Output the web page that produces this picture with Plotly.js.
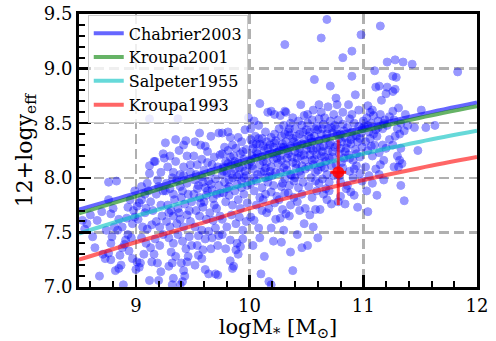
<!DOCTYPE html>
<html>
<head>
<meta charset="utf-8">
<script src="https://cdn.plot.ly/plotly-3.0.1.min.js"></script>
<style>
  html, body { margin: 0; padding: 0; background: #fff; }
  #chart { width: 496px; height: 341px; }
</style>
</head>
<body>
<div id="chart"></div>
<script>
// galaxies: [logM*, 12+log(O/H)]
const galaxyPoints = [
  [8.53,7.61],[8.57,7.58],[8.66,7.61],[8.68,7.10],[8.73,7.26],[8.71,7.30],[8.62,7.46],[8.70,7.69],[8.55,7.53],[8.64,7.36],[8.74,7.52],[8.60,7.66],
  [8.76,7.96],[8.83,7.97],[8.76,7.80],[8.78,7.67],[8.81,7.55],[8.88,7.55],[8.79,7.46],[8.78,7.40],[8.76,7.31],[8.78,7.25],[8.85,7.17],[8.87,7.20],
  [8.97,7.26],[8.89,7.02],[8.82,7.15],[8.86,7.29],[8.88,7.36],[8.90,7.39],[8.91,7.43],[8.93,7.48],[8.92,7.63],[8.93,7.73],[8.98,7.70],[8.95,7.80],
  [8.97,7.58],[8.85,7.62],[8.96,7.45],[8.99,7.88],[8.80,7.72],[8.94,7.33],[8.84,7.52],[8.99,7.64],
  [9.01,7.23],[9.03,7.18],[9.00,7.16],[9.04,7.22],[9.14,7.23],[9.19,7.22],[9.22,7.14],[9.20,7.06],[9.12,7.06],[9.03,7.77],[9.01,7.74],[9.05,7.80],
  [9.08,7.68],[9.09,7.72],[9.12,8.54],[9.17,8.15],[9.16,8.15],[9.12,8.11],[9.12,8.04],[9.24,8.22],[9.25,8.18],[9.22,8.05],[9.05,7.92],[9.08,7.85],
  [9.10,7.95],[9.13,7.78],[9.15,7.70],[9.18,7.85],[9.20,7.92],[9.22,7.75],[9.06,7.55],[9.10,7.53],[9.14,7.57],[9.18,7.60],[9.21,7.55],[9.23,7.65],
  [9.05,7.45],[9.09,7.40],[9.13,7.36],[9.17,7.44],[9.21,7.38],[9.02,7.62],[9.07,7.30],[9.16,7.30],[9.24,7.48],[9.11,7.88],[9.19,7.98],[9.24,7.88],
  [9.26,8.32],[9.37,8.54],[9.33,8.66],[9.29,7.19],[9.32,7.22],[9.40,7.22],[9.42,7.15],[9.43,7.10],[9.41,7.05],[9.39,7.02],[9.28,8.10],[9.30,8.20],
  [9.33,8.05],[9.35,8.15],[9.38,8.25],[9.42,8.30],[9.45,8.20],[9.48,8.12],[9.27,7.95],[9.30,7.90],[9.33,7.85],[9.36,7.98],[9.39,7.92],[9.42,8.02],
  [9.45,7.95],[9.48,8.05],[9.28,7.75],[9.31,7.70],[9.34,7.80],[9.37,7.72],[9.40,7.82],[9.43,7.76],[9.46,7.85],[9.49,7.78],[9.27,7.60],[9.30,7.55],
  [9.33,7.65],[9.36,7.58],[9.39,7.62],[9.42,7.55],[9.45,7.66],[9.48,7.60],[9.29,7.45],[9.33,7.40],[9.37,7.48],[9.41,7.42],[9.44,7.35],[9.47,7.46],
  [9.31,7.32],[9.35,7.28],[9.46,7.28],[9.49,7.38],[9.26,7.88],[9.44,8.34],[9.35,8.35],[9.47,7.70],[9.38,7.68],[9.32,8.00],[9.41,7.88],[9.29,7.68],
  [9.33,7.08],[9.32,7.02],[9.45,7.23],[9.42,8.10],[9.39,8.03],
  [9.69,8.65],[9.52,8.33],[9.57,8.30],[9.61,8.29],[9.63,8.24],[9.56,8.41],[9.66,8.38],[9.73,8.41],[9.51,8.20],[9.54,8.12],[9.58,8.17],[9.60,8.07],
  [9.63,8.14],[9.66,8.05],[9.69,8.19],[9.72,8.10],[9.74,8.21],[9.53,8.03],[9.67,8.12],[9.52,7.98],[9.55,7.93],[9.58,8.01],[9.61,7.91],[9.64,7.97],
  [9.67,7.89],[9.70,7.99],[9.73,7.93],[9.51,7.85],[9.56,7.82],[9.62,7.84],[9.68,7.81],[9.74,7.86],[9.53,7.70],[9.56,7.65],[9.59,7.73],[9.62,7.62],
  [9.65,7.68],[9.68,7.61],[9.71,7.72],[9.74,7.65],[9.60,7.78],[9.52,7.55],[9.55,7.47],[9.58,7.52],[9.61,7.44],[9.64,7.51],[9.67,7.45],[9.70,7.54],
  [9.73,7.47],[9.54,7.38],[9.59,7.34],[9.66,7.35],[9.72,7.38],[9.58,7.26],[9.61,7.16],[9.72,7.11],[9.64,7.12],[9.70,7.12],[9.52,7.20],[9.55,7.29],
  [9.54,7.90],[9.59,7.96],[9.63,7.88],[9.66,7.94],[9.71,7.85],[9.57,7.77],[9.69,7.75],
  [9.99,8.55],[9.76,8.41],[9.81,8.42],[9.83,8.37],[9.90,8.37],[9.85,8.30],[9.93,8.33],[9.78,8.28],[9.96,8.44],[9.76,8.22],[9.79,8.15],[9.81,8.25],
  [9.84,8.12],[9.86,8.20],[9.88,8.27],[9.90,8.14],[9.92,8.22],[9.95,8.17],[9.97,8.26],[9.99,8.12],[9.77,8.10],[9.83,8.19],[9.94,8.10],[9.76,8.03],
  [9.78,7.96],[9.80,8.05],[9.82,7.92],[9.85,8.00],[9.87,8.08],[9.89,7.94],[9.91,8.03],[9.93,7.97],[9.96,8.06],[9.98,7.93],[9.80,7.90],[9.95,8.00],
  [9.77,7.86],[9.79,7.78],[9.82,7.84],[9.85,7.75],[9.87,7.88],[9.90,7.80],[9.92,7.72],[9.95,7.85],[9.98,7.77],[9.76,7.62],[9.80,7.55],[9.84,7.66],
  [9.88,7.58],[9.91,7.64],[9.94,7.52],[9.97,7.60],[9.76,7.48],[9.83,7.43],[9.89,7.40],[9.94,7.44],[9.92,7.37],[9.88,7.34],[9.90,7.30],[9.83,7.24],
  [9.86,7.19],[9.85,7.17],[9.79,7.35],
  [9.77,8.06],[9.81,8.13],[9.84,8.04],[9.87,8.15],[9.91,8.09],[9.94,8.24],[9.97,8.02],[9.82,7.98],[9.89,8.01],[9.93,7.91],
  [10.09,8.68],[10.16,8.60],[10.22,8.58],[10.01,8.45],[10.08,8.48],[10.14,8.42],[10.22,8.40],[10.19,8.61],[10.04,8.52],[10.01,8.35],[10.03,8.27],
  [10.05,8.38],[10.07,8.22],[10.09,8.31],[10.11,8.36],[10.13,8.25],[10.15,8.33],[10.17,8.21],[10.19,8.37],[10.21,8.28],[10.23,8.34],[10.24,8.23],
  [10.02,8.20],[10.12,8.29],[10.18,8.30],[10.06,8.31],[10.01,8.15],[10.03,8.08],[10.05,8.18],[10.07,8.03],[10.09,8.12],[10.11,8.19],[10.13,8.06],
  [10.15,8.14],[10.17,8.01],[10.19,8.10],[10.21,8.17],[10.23,8.05],[10.25,8.13],[10.04,8.00],[10.14,8.09],[10.20,8.02],[10.01,7.95],[10.04,7.88],
  [10.06,7.97],[10.09,7.82],[10.11,7.91],[10.14,7.85],[10.16,7.96],[10.19,7.87],[10.21,7.93],[10.24,7.83],[10.12,7.80],[10.17,7.72],[10.15,7.68],
  [10.04,7.61],[10.01,7.64],[10.08,7.54],[10.19,7.54],[10.09,7.45],[10.23,7.62],[10.11,7.70],[10.06,7.75],[10.22,7.77],[10.17,7.05],[10.19,7.02],
  [10.13,7.28],[10.03,7.38],[10.21,7.42],[10.10,7.12],
  [10.02,8.11],[10.06,8.24],[10.10,8.05],[10.12,8.15],[10.16,8.27],[10.18,8.06],[10.20,8.22],[10.24,8.18],[10.08,8.36],[10.14,8.00],[10.22,8.32],[10.03,8.31],
  [10.31,9.22],[10.45,8.67],[10.32,8.60],[10.48,8.57],[10.31,8.61],[10.27,8.57],[10.38,8.55],[10.43,8.52],[10.26,8.45],[10.28,8.38],[10.30,8.48],
  [10.32,8.33],[10.34,8.42],[10.36,8.50],[10.38,8.36],[10.40,8.45],[10.42,8.31],[10.44,8.40],[10.46,8.48],[10.48,8.35],[10.50,8.44],[10.29,8.31],
  [10.35,8.39],[10.41,8.38],[10.47,8.42],[10.26,8.25],[10.28,8.16],[10.30,8.28],[10.32,8.12],[10.34,8.22],[10.36,8.29],[10.38,8.14],[10.40,8.24],
  [10.42,8.18],[10.44,8.27],[10.46,8.11],[10.48,8.21],[10.50,8.26],[10.33,8.18],[10.45,8.20],[10.27,8.05],[10.29,7.95],[10.31,7.99],[10.33,8.07],
  [10.35,7.93],[10.37,8.02],[10.39,7.97],[10.41,8.09],[10.43,7.91],[10.45,8.03],[10.47,7.96],[10.49,8.08],[10.28,7.92],[10.40,8.00],[10.26,7.80],
  [10.29,7.71],[10.31,7.86],[10.34,7.86],[10.36,7.75],[10.35,7.65],[10.32,7.67],[10.27,7.63],[10.39,7.82],[10.42,7.78],[10.44,7.70],[10.46,7.85],
  [10.49,7.72],[10.48,7.58],[10.38,7.15],[10.46,7.36],[10.42,7.48],[10.30,7.52],[10.28,7.41],[10.36,7.32],
  [10.27,8.20],[10.30,8.09],[10.33,8.25],[10.35,8.45],[10.37,8.19],[10.39,8.33],[10.41,8.13],[10.43,8.23],[10.46,8.31],[10.49,8.16],[10.31,8.40],
  [10.44,8.06],[10.28,8.28],[10.36,8.03],
  [10.68,9.45],[10.63,9.28],[10.57,8.90],[10.71,8.84],[10.61,8.67],[10.69,8.65],[10.63,8.60],[10.74,8.58],[10.51,8.58],[10.56,8.62],[10.51,8.50],
  [10.53,8.42],[10.55,8.53],[10.57,8.38],[10.59,8.47],[10.61,8.54],[10.63,8.40],[10.65,8.49],[10.67,8.36],[10.69,8.45],[10.71,8.52],[10.73,8.41],
  [10.75,8.48],[10.54,8.36],[10.66,8.55],[10.60,8.44],[10.51,8.30],[10.53,8.21],[10.55,8.33],[10.57,8.17],[10.59,8.27],[10.61,8.34],[10.63,8.20],
  [10.65,8.29],[10.67,8.15],[10.69,8.25],[10.71,8.32],[10.73,8.19],[10.75,8.28],[10.56,8.25],[10.64,8.24],[10.70,8.18],[10.52,8.10],[10.54,8.00],
  [10.56,8.12],[10.58,7.97],[10.60,8.07],[10.62,8.13],[10.64,7.99],[10.66,8.09],[10.68,8.03],[10.70,7.96],[10.72,8.11],[10.74,8.02],[10.61,7.95],
  [10.67,7.90],[10.52,7.92],[10.55,7.82],[10.58,7.71],[10.62,7.71],[10.68,7.80],[10.59,7.88],[10.65,7.85],[10.72,7.76],[10.53,7.66],[10.70,7.88],
  [10.51,7.38],[10.60,7.45],[10.56,7.55],
  [10.52,8.38],[10.54,8.27],[10.57,8.45],[10.59,8.21],[10.62,8.28],[10.64,8.45],[10.66,8.19],[10.68,8.40],[10.70,8.30],[10.73,8.24],[10.58,8.05],
  [10.63,8.10],[10.72,8.46],[10.55,8.16],
  [10.98,9.31],[10.90,9.16],[10.82,9.10],[10.90,8.93],[10.93,8.76],[10.76,8.73],[10.77,8.67],[10.87,8.67],[10.82,8.60],[10.90,8.58],[10.96,8.62],
  [10.76,8.45],[10.78,8.53],[10.80,8.40],[10.82,8.49],[10.84,8.37],[10.86,8.46],[10.88,8.54],[10.90,8.42],[10.92,8.50],[10.94,8.38],[10.96,8.47],
  [10.98,8.41],[10.79,8.36],[10.89,8.35],[11.00,8.52],[10.77,8.30],[10.79,8.22],[10.81,8.33],[10.83,8.18],[10.85,8.27],[10.87,8.21],[10.89,8.31],
  [10.91,8.16],[10.93,8.26],[10.95,8.33],[10.97,8.19],[10.99,8.28],[10.84,8.24],[10.76,8.12],[10.79,8.02],[10.82,8.09],[10.85,7.90],[10.86,7.93],
  [10.89,7.87],[10.88,8.06],[10.91,8.00],[10.94,8.11],[10.97,8.04],[10.99,7.97],[10.80,7.96],[10.78,7.78],[10.80,7.83],[10.95,7.73],[10.92,7.84],
  [10.84,7.76],
  [10.77,8.40],[10.80,8.27],[10.83,8.43],[10.86,8.32],[10.88,8.18],[10.91,8.38],[10.94,8.22],[10.97,8.36],[10.81,8.14],[10.92,8.08],[10.99,8.45],
  [11.15,9.39],[11.21,9.06],[11.10,8.98],[11.11,8.83],[11.21,8.83],[11.20,8.77],[11.16,8.71],[11.14,8.84],[11.04,8.66],[11.08,8.62],[11.01,8.47],
  [11.03,8.55],[11.05,8.42],[11.07,8.50],[11.09,8.57],[11.11,8.44],[11.13,8.52],[11.15,8.58],[11.17,8.45],[11.19,8.53],[11.21,8.48],[11.23,8.56],
  [11.06,8.60],[11.02,8.33],[11.04,8.25],[11.06,8.36],[11.08,8.20],[11.10,8.30],[11.12,8.38],[11.14,8.23],[11.17,8.30],[11.20,8.27],[11.23,8.35],
  [11.18,8.16],[11.02,8.10],[11.05,8.02],[11.08,7.95],[11.11,8.08],[11.15,8.12],[11.14,8.03],[11.18,7.98],[11.04,7.69],[11.03,7.88],[11.12,7.84],
  [11.04,8.48],[11.09,8.40],[11.13,8.46],[11.18,8.50],[11.07,8.29],
  [11.28,9.08],[11.35,9.06],[11.43,9.04],[11.26,8.93],[11.29,8.92],[11.26,8.79],[11.28,8.81],[11.26,8.61],[11.31,8.64],[11.37,8.58],[11.51,8.62],
  [11.27,8.53],[11.30,8.45],[11.33,8.50],[11.36,8.43],[11.39,8.48],[11.32,8.40],[11.28,8.38],[11.26,8.30],[11.33,8.27],[11.30,8.20],[11.34,8.13],
  [11.31,8.10],[11.32,8.16],[11.48,8.25],[11.33,7.93],[11.36,7.79],[11.27,8.10],[11.45,8.46],
  [11.55,8.46],[11.63,8.48],[11.83,8.97]
];

// mass-metallicity relations for the four IMFs
const lineMass     = [8.5, 9.0, 9.5, 10.0, 10.5, 11.0, 11.5, 12.0];
const chabrier2003 = [7.71, 7.86, 8.02, 8.18, 8.33, 8.46, 8.58, 8.69];
const kroupa2001   = [7.675, 7.83, 7.99, 8.15, 8.30, 8.43, 8.55, 8.655];
const salpeter1955 = [7.49, 7.65, 7.80, 7.95, 8.09, 8.22, 8.33, 8.43];
const kroupa1993   = [7.25, 7.41, 7.56, 7.72, 7.86, 7.98, 8.09, 8.19];

// the single highlighted object
const objMass = [10.78];
const objOH = [8.05];
const objErrOH = [0.30];
const objErrMass = [0.07];

const serif = "DejaVu Serif";

const relation = (y, name, color) => ({
  x: lineMass, y, name, type: "scatter", mode: "lines",
  line: { color, width: 4, shape: "spline" },
  hoverinfo: "skip"
});

const data = [
  {
    x: galaxyPoints.map(p => p[0]),
    y: galaxyPoints.map(p => p[1]),
    type: "scatter", mode: "markers", showlegend: false,
    marker: { color: "rgb(0,0,255)", size: 8, opacity: 0.4,
              line: { color: "rgb(0,0,255)", width: 1 } }
  },
  relation(chabrier2003, "Chabrier2003", "rgba(0,0,255,0.6)"),
  relation(kroupa2001, "Kroupa2001", "rgba(0,128,0,0.6)"),
  relation(salpeter1955, "Salpeter1955", "rgba(0,191,191,0.6)"),
  relation(kroupa1993, "Kroupa1993", "rgba(255,0,0,0.6)"),
  {
    x: objMass, y: objOH, type: "scatter", mode: "markers", showlegend: false,
    marker: { color: "rgba(255,0,0,0.85)", size: 12 },
    error_y: { type: "data", array: objErrOH, color: "rgba(255,0,0,0.7)", thickness: 3, width: 0 },
    error_x: { type: "data", array: objErrMass, color: "rgba(255,0,0,0.85)", thickness: 3, width: 0 }
  }
];

const axisStyle = {
  showline: true, linecolor: "black", linewidth: 3, mirror: true,
  ticks: "inside", ticklen: 12, tickwidth: 2.5, tickcolor: "black",
  showgrid: true, gridcolor: "#b0b0b0", gridwidth: 2.5, griddash: "10px,5px",
  zeroline: false,
  tickfont: { family: serif, size: 18, color: "black" }
};

const layout = {
  width: 496, height: 341,
  margin: { l: 79, r: 19, t: 14, b: 54 },
  paper_bgcolor: "white", plot_bgcolor: "white",
  font: { family: serif, color: "black" },
  xaxis: {
    ...axisStyle, range: [8.5, 12], dtick: 1, tick0: 0,
    minor: { dtick: 0.2, tick0: 0, ticks: "inside", ticklen: 6, tickwidth: 2, tickcolor: "black", showgrid: false },
    title: { text: "logM<sub>*</sub> [M<sub>⊙</sub>]", font: { family: serif, size: 21 }, standoff: 6 }
  },
  yaxis: {
    ...axisStyle, range: [7, 9.5], dtick: 0.5, tick0: 0, tickformat: ".1f",
    minor: { dtick: 0.1, tick0: 0, ticks: "inside", ticklen: 6, tickwidth: 2, tickcolor: "black", showgrid: false },
    title: { text: "12+logy<sub>eff</sub>", font: { family: serif, size: 22 }, standoff: 6 }
  },
  legend: {
    x: 0.022, y: 0.995, xanchor: "left", yanchor: "top",
    bgcolor: "rgba(255,255,255,0.8)", bordercolor: "#cccccc", borderwidth: 1,
    font: { family: serif, size: 16, color: "black" }, tracegroupgap: 0
  },
  showlegend: true
};

Plotly.newPlot("chart", data, layout, { displayModeBar: false, staticPlot: true });
</script>
</body>
</html>
